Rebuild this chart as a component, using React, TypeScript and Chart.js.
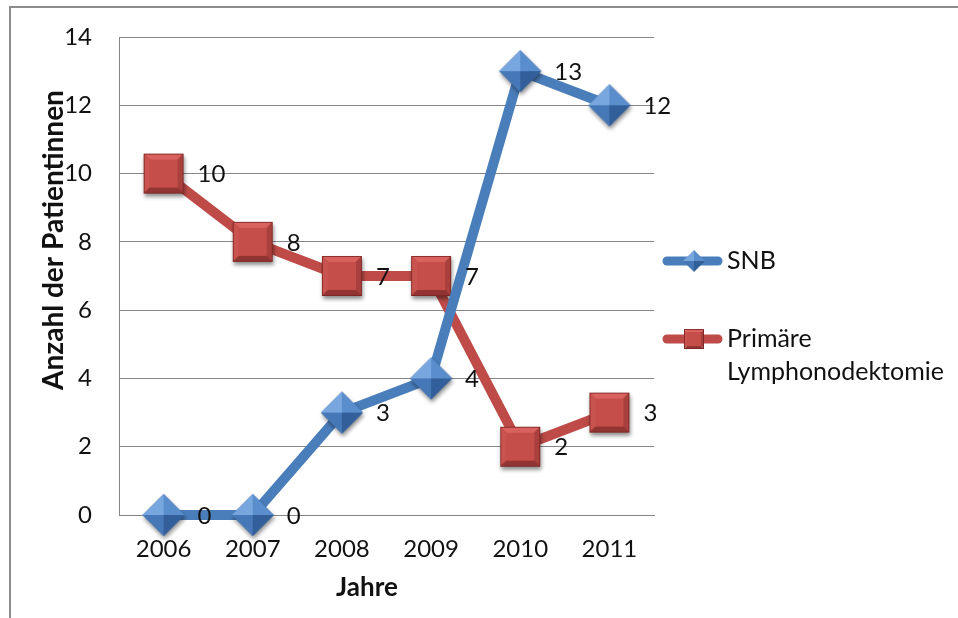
import React, { useEffect, useRef } from 'react';
import { Chart, registerables } from 'chart.js';
Chart.register(...registerables);

const years = ['2006', '2007', '2008', '2009', '2010', '2011'];
const snbValues = [0, 0, 3, 4, 13, 12];
const primaryValues = [10, 8, 7, 7, 2, 3];
const seriesNames = ['SNB', 'Primäre Lymphonodektomie'];
const legendLines = [['SNB'], ['Primäre', 'Lymphonodektomie']];
const yTitle = 'Anzahl der Patientinnen';
const xTitle = 'Jahre';
const yTicks = { min: 0, max: 14, step: 2 };

const FONT = 'Lato, "Open Sans", sans-serif';
const TEXT = '#111';
const BLUE = 'rgb(74,126,187)';
const RED = 'rgb(190,75,72)';

type P = [number, number];
function poly(ctx: CanvasRenderingContext2D, pts: P[], color: string) {
  ctx.beginPath();
  ctx.moveTo(pts[0][0], pts[0][1]);
  for (let i = 1; i < pts.length; i++) ctx.lineTo(pts[i][0], pts[i][1]);
  ctx.closePath();
  ctx.fillStyle = color;
  ctx.fill();
}

function makeDiamond(r: number, shadow: boolean) {
  const m = 7;
  const size = 2 * (r + m);
  const c = document.createElement('canvas');
  c.width = size;
  c.height = size;
  const ctx = c.getContext('2d')!;
  const cx = size / 2, cy = size / 2;
  const T: P = [cx, cy - r], R: P = [cx + r, cy], B: P = [cx, cy + r], L: P = [cx - r, cy], C: P = [cx, cy];
  if (shadow) {
    ctx.save();
    ctx.shadowColor = 'rgba(0,0,0,0.45)';
    ctx.shadowBlur = 4;
    ctx.shadowOffsetX = 1;
    ctx.shadowOffsetY = 3;
    poly(ctx, [T, R, B, L], '#3d6ca8');
    ctx.restore();
  }
  poly(ctx, [T, L, C], '#78a6de');
  poly(ctx, [T, R, C], '#5a8dcc');
  poly(ctx, [L, B, C], '#4677b6');
  poly(ctx, [R, B, C], '#325f9a');
  return c;
}

function makeSquare(s: number, shadow: boolean) {
  const m = 7;
  const size = 2 * (s + m);
  const c = document.createElement('canvas');
  c.width = size;
  c.height = size;
  const ctx = c.getContext('2d')!;
  const cx = size / 2, cy = size / 2;
  const k = Math.max(2, Math.round(s * 0.28));
  const o1: P = [cx - s, cy - s], o2: P = [cx + s, cy - s], o3: P = [cx + s, cy + s], o4: P = [cx - s, cy + s];
  const i1: P = [cx - s + k, cy - s + k], i2: P = [cx + s - k, cy - s + k], i3: P = [cx + s - k, cy + s - k], i4: P = [cx - s + k, cy + s - k];
  if (shadow) {
    ctx.save();
    ctx.shadowColor = 'rgba(0,0,0,0.45)';
    ctx.shadowBlur = 4;
    ctx.shadowOffsetX = 1;
    ctx.shadowOffsetY = 3;
    poly(ctx, [o1, o2, o3, o4], '#8e3431');
    ctx.restore();
  }
  poly(ctx, [o1, o2, i2, i1], '#d9625e');
  poly(ctx, [o1, i1, i4, o4], '#c9534f');
  poly(ctx, [o2, o3, i3, i2], '#a9403d');
  poly(ctx, [o4, i4, i3, o3], '#923532');
  poly(ctx, [i1, i2, i3, i4], '#c54e4b');
  ctx.strokeStyle = 'rgba(120,35,33,0.8)';
  ctx.lineWidth = 1;
  ctx.strokeRect(cx - s + 0.5, cy - s + 0.5, 2 * s - 1, 2 * s - 1);
  return c;
}

export default function App() {
  const ref = useRef<HTMLCanvasElement>(null);
  useEffect(() => {
    const canvas = ref.current!;
    const diamond = makeDiamond(21, true);
    const square = makeSquare(20, true);
    const legDiamond = makeDiamond(11, false);
    const legSquare = makeSquare(10, false);

    const overlay = {
      id: 'overlay',
      afterDatasetsDraw(chart: any) {
        const ctx = chart.ctx as CanvasRenderingContext2D;
        ctx.save();
        ctx.font = `24px ${FONT}`;
        ctx.fillStyle = TEXT;
        ctx.textAlign = 'left';
        ctx.textBaseline = 'middle';
        chart.data.datasets.forEach((ds: any, i: number) => {
          const meta = chart.getDatasetMeta(i);
          meta.data.forEach((pt: any, j: number) => {
            ctx.fillText(String(ds.data[j]), pt.x + 34, pt.y + 1);
          });
        });
        ctx.restore();
      },
      afterDraw(chart: any) {
        const ctx = chart.ctx as CanvasRenderingContext2D;
        ctx.save();
        // axis titles
        ctx.fillStyle = TEXT;
        ctx.textAlign = 'center';
        ctx.textBaseline = 'middle';
        ctx.font = `bold 26px ${FONT}`;
        ctx.fillText(xTitle, 367, 588);
        ctx.save();
        ctx.translate(54, 240);
        ctx.rotate(-Math.PI / 2);
        ctx.font = `bold 28px ${FONT}`;
        ctx.fillText(yTitle, 0, 0);
        ctx.restore();
        // legend
        const entries = [
          { color: BLUE, img: legDiamond, y: 261, lines: legendLines[0] },
          { color: RED, img: legSquare, y: 339, lines: legendLines[1] },
        ];
        entries.forEach((e) => {
          ctx.strokeStyle = e.color;
          ctx.lineWidth = 9;
          ctx.lineCap = 'round';
          ctx.beginPath();
          ctx.moveTo(667, e.y);
          ctx.lineTo(718, e.y);
          ctx.stroke();
          ctx.drawImage(e.img, 694 - e.img.width / 2, e.y - e.img.height / 2);
          ctx.font = `25px ${FONT}`;
          ctx.textAlign = 'left';
          ctx.fillStyle = TEXT;
          e.lines.forEach((t, k) => ctx.fillText(t, 727, e.y + k * 33));
        });
        ctx.restore();
      },
    };

    const chart = new Chart(canvas, {
      type: 'line',
      data: {
        labels: years,
        datasets: [
          {
            label: seriesNames[0],
            data: snbValues,
            borderColor: BLUE,
            backgroundColor: BLUE,
            borderWidth: 10,
            borderJoinStyle: 'round',
            borderCapStyle: 'round',
            pointStyle: diamond,
            tension: 0,
            clip: false,
          },
          {
            label: seriesNames[1],
            data: primaryValues,
            borderColor: RED,
            backgroundColor: RED,
            borderWidth: 10,
            borderJoinStyle: 'round',
            borderCapStyle: 'round',
            pointStyle: square,
            tension: 0,
            clip: false,
          },
        ],
      },
      options: {
        responsive: false,
        animation: false,
        events: [],
        layout: { padding: { left: 0, top: 37, right: 304, bottom: 0 } },
        plugins: { legend: { display: false }, tooltip: { enabled: false } },
        scales: {
          x: {
            type: 'category',
            offset: true,
            grid: { display: false, drawTicks: false },
            border: { display: true, color: '#868686', width: 1 },
            ticks: { font: { family: FONT, size: 24 }, color: TEXT, padding: 20, maxRotation: 0 },
            afterFit: (s: any) => { s.height = 103; },
          },
          y: {
            min: yTicks.min,
            max: yTicks.max,
            grid: { color: '#868686', drawTicks: false, lineWidth: 1 },
            border: { display: true, color: '#868686', width: 1 },
            ticks: { stepSize: yTicks.step, font: { family: FONT, size: 24 }, color: TEXT, padding: 27 },
            afterFit: (s: any) => {
              s.width = 119;
              s.paddingTop = 0;
              s.paddingBottom = 0;
            },
          },
        },
      },
      plugins: [overlay],
    } as any);
    return () => chart.destroy();
  }, []);

  return (
    <div style={{ position: 'fixed', left: 0, top: 0, width: 958, height: 618, overflow: 'hidden', background: '#fff' }}>
      <div style={{ position: 'absolute', left: 9, top: 6, width: 1000, height: 700, borderLeft: '2px solid #8c8c8c', borderTop: '2px solid #8c8c8c' }} />
      <canvas ref={ref} width={958} height={618} style={{ position: 'absolute', left: 0, top: 0 }} />
    </div>
  );
}
